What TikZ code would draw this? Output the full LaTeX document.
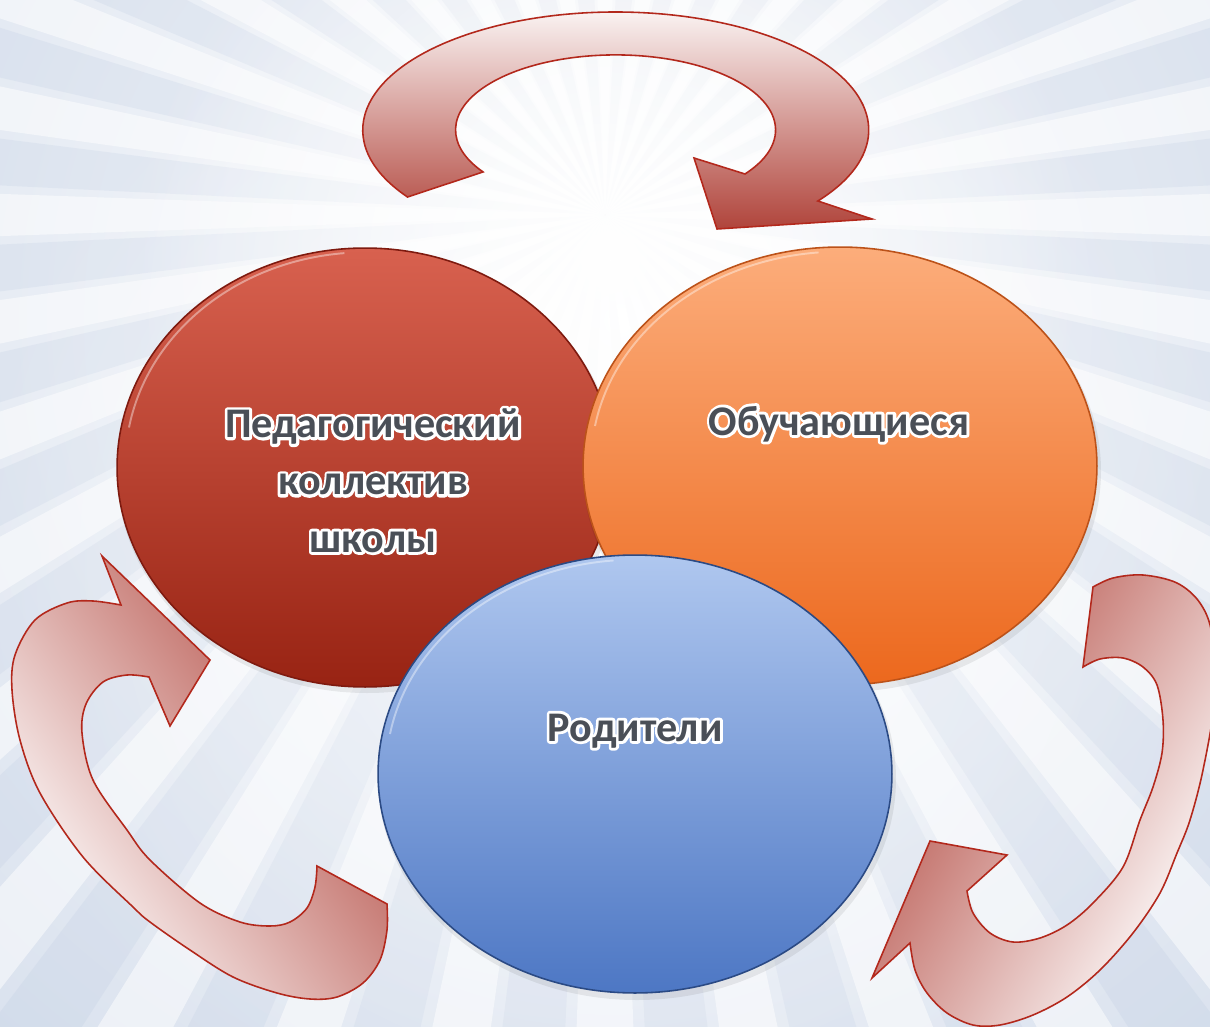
\documentclass[tikz,border=0pt]{standalone}
\usepackage{fontspec}
\setmainfont{Carlito}
\usetikzlibrary{shapes.geometric, fadings}

\tikzfading[name=glowfade, inner color=transparent!0, outer color=transparent!100]

\definecolor{bgbase}{HTML}{CCD7E8}
\definecolor{bgblue}{HTML}{B3C3DD}
\definecolor{arrdark}{HTML}{B0443B}
\definecolor{arrline}{HTML}{B3281C}
\definecolor{redtop}{HTML}{D8614F}
\definecolor{redbot}{HTML}{982313}
\definecolor{redline}{HTML}{7E1A0F}
\definecolor{ortop}{HTML}{FCAD7B}
\definecolor{orbot}{HTML}{EC681D}
\definecolor{orline}{HTML}{BC5219}
\definecolor{bltop}{HTML}{AFC7EF}
\definecolor{blbot}{HTML}{4D77C4}
\definecolor{blline}{HTML}{2B4A84}
\definecolor{txtgray}{HTML}{4A4F57}

% white halo: one stroked (render mode 1) copy under the filled text
\newcommand{\halotext}[1]{\makebox[0pt][l]{\special{pdf:literal direct 1 Tr 3.2 w 1 1 1 RG 1 j}#1\special{pdf:literal direct 0 Tr 0.4 w 0 j}}#1}

\tikzset{
  circarrow/.style={draw=arrline, line width=0.9pt, line join=miter},
  bubble/.style={ellipse, inner sep=0pt, outer sep=0pt, line width=0.9pt},
  lbl/.style={font=\bfseries\fontsize{24}{32.6}\selectfont, text=txtgray, align=center, inner sep=0pt},
  bshadow/.style={fill=black, opacity=0.07},
  shine/.style={draw=white, opacity=0.4, line width=1.1pt},
}

\begin{document}
\begin{tikzpicture}[x=0.02cm, y=-0.02cm]
\useasboundingbox (0,0) rectangle (1210,1027);

% ---------- background ----------
\begin{scope}
  \clip (0,0) rectangle (1210,1027);
  \fill[bgbase] (0,0) rectangle (1210,1027);
  \shade[inner color=white, outer color=bgbase] (620,320) circle (1300);
  \foreach \a in {0,10,...,355} {
    \fill[white, opacity=0.5] (605,215) -- +(\a-2:1500) -- +(\a+2:1500) -- cycle;
  }
  \foreach \a in {5,15,...,355} {
    \fill[bgblue, opacity=0.18] (605,215) -- +(\a-2.2:1500) -- +(\a+2.2:1500) -- cycle;
  }
  \fill[white, path fading=glowfade] (610,260) circle (480);
  \fill[white, opacity=0.6, path fading=glowfade] (610,560) circle (650);
\end{scope}

% ---------- circular arrows ----------
% top arrow
\path[circarrow, top color=white, bottom color=arrdark]
  (407.5,197) arc[start angle=145.4, end angle=397, x radius=253, y radius=118]
  -- (872,219) -- (717,229) -- (694,158) -- (745,174)
  arc[start angle=396, end angle=145.9, x radius=160, y radius=75] -- cycle;

% left arrow
\path[circarrow, top color=arrdark, bottom color=white, shading angle=-55]
  (121,605) -- (102,556) -- (210,660) -- (170,726) -- (149,677)
  -- plot[smooth, tension=0.55] coordinates {(149,677) (127,675) (103,682) (86,704) (82,733) (93,780) (127,830) (150,860) (200,903) (240,922) (270,926) (290,922) (307,908) (315,887) (317,866)}
  -- (387,904)
  -- plot[smooth, tension=0.55] coordinates {(387,904) (387,930) (380,960) (363,983) (337,997) (310,999) (277,993) (233,977) (190,950) (150,922) (133,907) (83,857) (40,793) (20,740) (12,690) (15,655) (35,620) (67,603) (93,601) (121,605)}
  -- cycle;

% right arrow
\path[circarrow, top color=arrdark, bottom color=white, shading angle=60]
  (1093,587)
  -- plot[smooth, tension=0.55] coordinates {(1093,587) (1113,578) (1143,575) (1177,583) (1200,603) (1212,635) (1214,703) (1203,770) (1190,820) (1177,853) (1160,893) (1133,933) (1100,970) (1067,997) (1033,1015) (1000,1025) (973,1025) (947,1013) (927,993) (915,970) (910,943)}
  -- (872,978) -- (930,841) -- (1007,855) -- (967,891)
  -- plot[smooth, tension=0.55] coordinates {(967,891) (973,913) (990,933) (1013,942) (1040,938) (1067,925) (1093,903) (1123,867) (1140,820) (1153,787) (1162,753) (1163,720) (1157,685) (1143,667) (1123,658) (1100,659) (1083,667)}
  -- cycle;

% ---------- ellipses ----------
\fill[bshadow] (367,472) ellipse (250 and 221);
\node[bubble, draw=redline, top color=redtop, bottom color=redbot,
      minimum width=9.92cm, minimum height=8.78cm] (ped) at (365,467.5) {};
\draw[shine] (ped.center) ++(-236,-40) arc[start angle=190, end angle=265, x radius=240, y radius=212];

\fill[bshadow] (842,471) ellipse (259 and 221);
\node[bubble, draw=orline, top color=ortop, bottom color=orbot,
      minimum width=10.28cm, minimum height=8.76cm] (obu) at (840,466) {};
\draw[shine] (obu.center) ++(-245,-40) arc[start angle=190, end angle=265, x radius=249, y radius=211];

\fill[bshadow] (637,779) ellipse (259 and 221);
\node[bubble, draw=blline, top color=bltop, bottom color=blbot,
      minimum width=10.28cm, minimum height=8.76cm] (rod) at (635,774) {};
\draw[shine] (rod.center) ++(-245,-40) arc[start angle=190, end angle=265, x radius=249, y radius=211];

% ---------- labels ----------
\node[lbl, anchor=base] (tped) at (373,552) {\halotext{Педагогический}\\\halotext{коллектив}\\\halotext{школы}};
\node[lbl, anchor=base] (tobu) at (839,435) {\halotext{Обучающиеся}};
\node[lbl, anchor=base] (trod) at (635,741) {\halotext{Родители}};
\end{tikzpicture}
\end{document}
